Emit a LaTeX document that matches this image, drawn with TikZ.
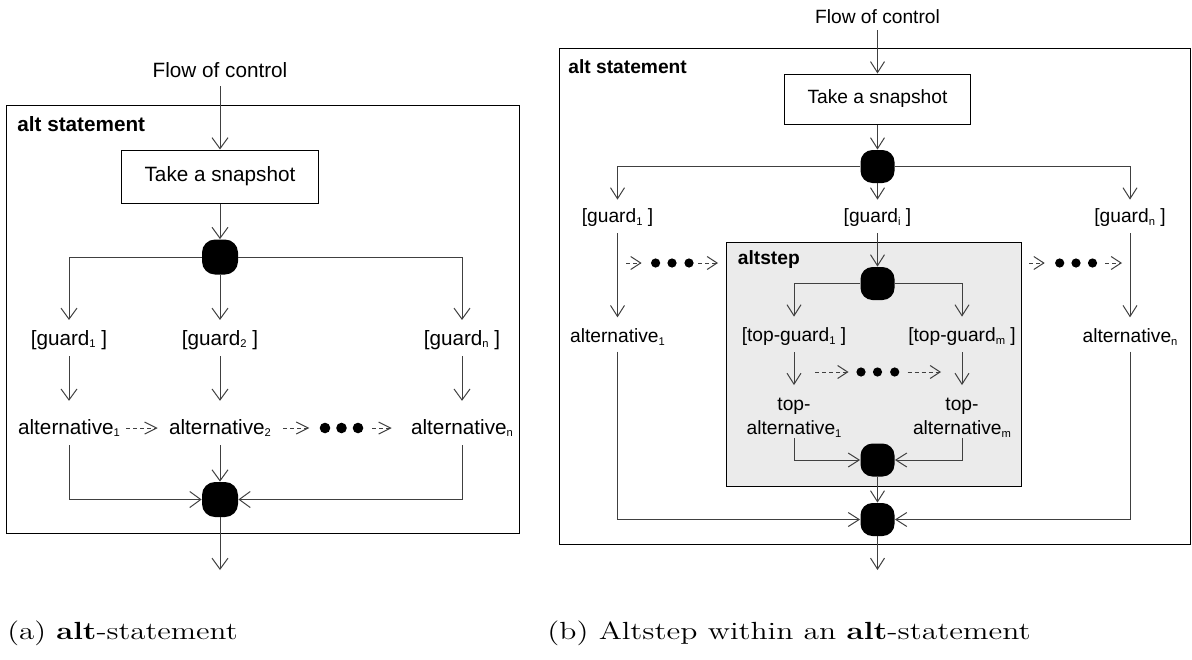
\documentclass[tikz,border=0pt]{standalone}
\usepackage{fontspec}
\usepackage{graphicx}
\usetikzlibrary{arrows.meta}
\newfontfamily\dsans{Liberation Sans}
\newcommand\fa{\dsans\fontsize{10.35}{12.4}\selectfont}
\newcommand\fb{\dsans\fontsize{9.6}{12}\selectfont}
\newcommand\sbx[1]{\raisebox{-1.3pt}{\fontsize{5.6}{6}\selectfont #1}}
\begin{document}
\begin{tikzpicture}[x=0.5pt,y=-0.5pt,
 conn/.style={draw=black!75,line width=0.5pt},
 arr/.style={conn,-{Straight Barb[length=5.5pt,width=8pt]}},
 arrb/.style={conn,-{Straight Barb[length=5.5pt,width=7pt]}},
 darr/.style={conn,dash pattern=on 2pt off 1.5pt,-{Straight Barb[length=6pt,width=6pt]}},
 darrb/.style={conn,dash pattern=on 2pt off 1.5pt,-{Straight Barb[length=5pt,width=6.5pt]}},
 la/.style={font=\fa,inner sep=2pt},
 lb/.style={font=\fb,inner sep=2pt},
 bara/.style={fill=black,rounded corners=6.5pt,minimum width=18pt,minimum height=17.5pt,inner sep=0pt},
 barb/.style={fill=black,rounded corners=6pt,minimum width=17pt,minimum height=16.5pt,inner sep=0pt},
 frame/.style={draw=black,line width=0.5pt},
 actbox/.style={draw=black,line width=0.5pt,inner sep=0pt},
 dota/.style={circle,fill=black,inner sep=0pt,minimum size=5.3pt},
 dotb/.style={circle,fill=black,inner sep=0pt,minimum size=4.6pt},
 captxt/.style={anchor=base west,inner sep=0pt,font=\fontsize{12.4}{14}\selectfont}
]
\useasboundingbox (0,0) rectangle (1192,659);

% ---------------- (a) ----------------
\draw[frame] (6,105) rectangle (519,533);
\node[la] (flowA) at (220,70) {Flow of control};
\node[la,font=\fa\bfseries,anchor=west] (altA) at (13,124) {alt statement};
\node[actbox,minimum width=98.5pt,minimum height=26.5pt,font=\fa] (snapA) at (220,176.5) {Take a snapshot};
\draw[arr,shorten <=2pt] (flowA.south) -- (snapA.north);
\node[bara] (d1) at (220,257) {};
\draw[arr] (snapA.south) -- (d1.north);

\node[la] (g1) at (69,340) {[guard\sbx{1} ]};
\node[la] (g2) at (220,340) {[guard\sbx{2} ]};
\node[la] (gn) at (462,340) {[guard\sbx{n} ]};
\draw[arr,shorten >=3pt] (d1.west) -| (g1.north);
\draw[arr,shorten >=3pt] (d1.south) -- (g2.north);
\draw[arr,shorten >=3pt] (d1.east) -| (gn.north);

\node[la] (a1) at (69,428) {alternative\sbx{1}};
\node[la] (a2) at (220,428) {alternative\sbx{2}};
\node[la] (an) at (462,428) {alternative\sbx{n}};
\draw[arr,shorten <=1pt,shorten >=7pt] (g1.south) -- (a1.north);
\draw[arr,shorten <=1pt,shorten >=7pt] (g2.south) -- (a2.north);
\draw[arr,shorten <=1pt,shorten >=7pt] (gn.south) -- (an.north);

\node[dota] (da1) at (325,428) {};
\node[dota] (da2) at (341.5,428) {};
\node[dota] (da3) at (358,428) {};
\draw[darr,shorten <=1pt,shorten >=3.5pt] (a1.east) -- (a2.west);
\draw[darr,shorten <=4pt,shorten >=5pt] (a2.east) -- (da1.west);
\draw[darr,shorten <=4.3pt,shorten >=7.5pt] (da3.east) -- (an.west);

\node[bara] (m1) at (220,499.5) {};
\draw[arr,shorten <=2pt] (a1.south) |- (m1.west);
\draw[arr,shorten <=2pt] (a2.south) -- (m1.north);
\draw[arr,shorten <=2pt] (an.south) |- (m1.east);
\coordinate (outA) at (220,570);
\draw[arr] (m1.south) -- (outA);

% ---------------- (b) ----------------
\draw[frame] (559,48) rectangle (1190.5,544);
\draw[draw=black,fill=black!8,line width=0.5pt] (726,242) rectangle (1021,486);
\node[lb] (flowB) at (877.5,17) {Flow of control};
\node[lb,font=\fb\bfseries,anchor=west] (altB) at (564,67) {alt statement};
\node[actbox,minimum width=92.75pt,minimum height=25pt,font=\fb] (snapB) at (877.5,99) {Take a snapshot};
\draw[arrb,shorten <=1pt] (flowB.south) -- (snapB.north);
\node[barb] (d2) at (877.5,166.5) {};
\draw[arrb] (snapB.south) -- (d2.north);

\node[lb] (h1) at (617.5,218) {[guard\sbx{1} ]};
\node[lb] (hi) at (877.5,218) {[guard\sbx{i} ]};
\node[lb] (hn) at (1130,218) {[guard\sbx{n} ]};
\draw[arrb,shorten >=2.5pt] (d2.west) -| (h1.north);
\draw[arrb,shorten >=2.5pt] (d2.south) -- (hi.north);
\draw[arrb,shorten >=2.5pt] (d2.east) -| (hn.north);

\node[lb,font=\fb\bfseries,anchor=west] (stepB) at (733.5,260) {altstep};
\node[barb] (d3) at (877.5,283.5) {};
\draw[arrb,shorten <=1pt] (hi.south) -- (d3.north);

\node[dotb] (el1) at (655.6,263) {};
\node[dotb] (el2) at (672,263) {};
\node[dotb] (el3) at (689,263) {};
\coordinate (el0) at (626,263);
\coordinate (el4) at (718,263);
\draw[darrb,shorten >=4.5pt] (el0) -- (el1.west);
\draw[darrb,shorten <=2pt] (el3.east) -- (el4);
\node[dotb] (er1) at (1059.7,263) {};
\node[dotb] (er2) at (1076,263) {};
\node[dotb] (er3) at (1092.5,263) {};
\coordinate (er0) at (1029,263);
\coordinate (er4) at (1122,263);
\draw[darrb,shorten >=5pt] (er0) -- (er1.west);
\draw[darrb,shorten <=3.8pt] (er3.east) -- (er4);

\node[lb] (t1) at (794,337) {[top-guard\sbx{1} ]};
\node[lb] (tm) at (962,337) {[top-guard\sbx{m} ]};
\draw[arrb,shorten >=3.5pt] (d3.west) -| (t1.north);
\draw[arrb,shorten >=3.5pt] (d3.east) -| (tm.north);

\node[lb,align=center,inner sep=0pt] (ta1) at (794,418) {top-\\alternative\sbx{1}};
\node[lb,align=center,inner sep=0pt] (tam) at (962,418) {top-\\alternative\sbx{m}};
\draw[arrb,shorten <=1pt,shorten >=6.5pt] (t1.south) -- (ta1.north);
\draw[arrb,shorten <=1pt,shorten >=6.5pt] (tm.south) -- (tam.north);

\node[dotb] (ei1) at (861,372) {};
\node[dotb] (ei2) at (877.5,372) {};
\node[dotb] (ei3) at (894.7,372) {};
\coordinate (ei0) at (815,372);
\coordinate (ei4) at (941,372);
\draw[darrb,shorten >=3.75pt] (ei0) -- (ei1.west);
\draw[darrb,shorten <=4pt] (ei3.east) -- (ei4);

\node[barb] (m3) at (877.5,460) {};
\draw[arrb] (ta1.south) |- (m3.west);
\draw[arrb] (tam.south) |- (m3.east);
\node[barb] (m2) at (877.5,519.5) {};
\draw[arrb] (m3.south) -- (m2.north);

\node[lb] (b1) at (617.5,337) {alternative\sbx{1}};
\node[lb] (bn) at (1130,337) {alternative\sbx{n}};
\draw[arrb,shorten <=1pt,shorten >=3.5pt] (h1.south) -- (b1.north);
\draw[arrb,shorten <=1pt,shorten >=3.5pt] (hn.south) -- (bn.north);
\draw[arrb,shorten <=1pt] (b1.south) |- (m2.west);
\draw[arrb,shorten <=1pt] (bn.south) |- (m2.east);
\coordinate (outB) at (877.5,570);
\draw[arrb] (m2.south) -- (outB);

% ---------------- captions ----------------
\node[captxt] (capA) at (7,639) {\scalebox{1.25}[1]{(a) \textbf{alt}-statement}};
\node[captxt] (capB) at (547,639) {\scalebox{1.27}[1]{(b) Altstep within an \textbf{alt}-statement}};
\end{tikzpicture}
\end{document}
